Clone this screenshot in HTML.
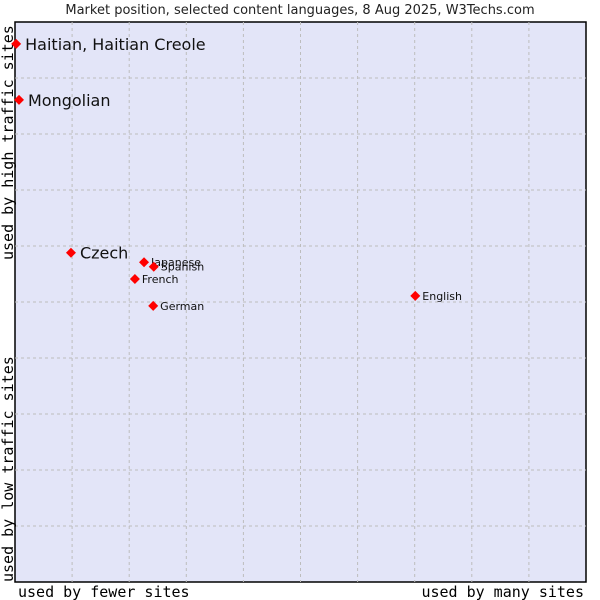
<!DOCTYPE html>
<html><head><meta charset="utf-8"><style>
body{margin:0;background:#fff;width:600px;height:600px;overflow:hidden}
svg{display:block}
</style></head><body>
<svg id="chart" width="600" height="600" xmlns="http://www.w3.org/2000/svg">
<text x="300" y="14" text-anchor="middle" font-family="'DejaVu Sans',sans-serif" font-size="13" fill="#222">Market position, selected content languages, 8 Aug 2025, W3Techs.com</text>
<rect x="15" y="22" width="571" height="560" fill="#e3e5f8" stroke="#000" stroke-width="1.5"/>
<g id="grid"></g>
<text x="18" y="597" font-family="'DejaVu Sans Mono',monospace" font-size="15" fill="#000">used by fewer sites</text>
<text x="584" y="597" text-anchor="end" font-family="'DejaVu Sans Mono',monospace" font-size="15" fill="#000">used by many sites</text>
<text transform="translate(13,260) rotate(-90)" font-family="'DejaVu Sans Mono',monospace" font-size="15" fill="#000">used by high traffic sites</text>
<text transform="translate(13,582) rotate(-90)" font-family="'DejaVu Sans Mono',monospace" font-size="15" fill="#000">used by low traffic sites</text>
<g id="points"></g>
</svg>
<script>
const languages=["Haitian, Haitian Creole","Mongolian","Czech","Japanese","Spanish","French","German","English"];
const xValues=[0.2,0.7,9.8,22.6,24.3,21.0,24.2,70.1];
const yValues=[96.1,86.1,58.8,57.1,56.3,54.1,49.3,51.1];
const bigLabel=[true,true,true,false,false,false,false,false];
const NS="http://www.w3.org/2000/svg";
const L=15,T=22,W=571,H=560;
const sx=v=>L+v/100*W, sy=v=>T+H-v/100*H;
const grid=document.getElementById('grid');
for(let i=1;i<10;i++){
 const v=document.createElementNS(NS,'line');
 v.setAttribute('x1',sx(i*10));v.setAttribute('x2',sx(i*10));v.setAttribute('y1',T);v.setAttribute('y2',T+H);
 v.setAttribute('stroke','#bdbdbd');v.setAttribute('stroke-dasharray','3,3');
 
 
 grid.appendChild(v);
 const h=document.createElementNS(NS,'line');
 h.setAttribute('y1',sy(i*10));h.setAttribute('y2',sy(i*10));h.setAttribute('x1',L);h.setAttribute('x2',L+W);
 h.setAttribute('stroke','#bdbdbd');h.setAttribute('stroke-dasharray','3,3');
 
 
 grid.appendChild(h);
}
const pts=document.getElementById('points');
languages.forEach((name,i)=>{
 const x=sx(xValues[i]),y=sy(yValues[i]);
 const d=document.createElementNS(NS,'polygon');
 d.setAttribute('points',`${x},${y-5} ${x+5},${y} ${x},${y+5} ${x-5},${y}`);
 d.setAttribute('fill','#ff0000');
 
 
 pts.appendChild(d);
 const t=document.createElementNS(NS,'text');
 t.setAttribute('x',x+(bigLabel[i]?9:7));
 t.setAttribute('y',y+(bigLabel[i]?6:4));
 t.setAttribute('font-family',"'DejaVu Sans',sans-serif");
 t.setAttribute('font-size',bigLabel[i]?'16':'11');
 t.setAttribute('fill','#111');
 t.textContent=name;
 
 
 pts.appendChild(t);
});
</script>
</body></html>
